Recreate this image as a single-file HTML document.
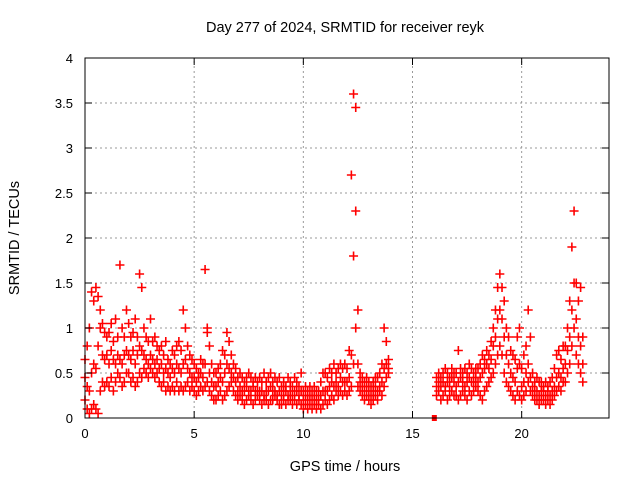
<!DOCTYPE html>
<html><head><meta charset="utf-8"><style>
body{margin:0;background:#fff}
svg{display:block;font-family:"Liberation Sans",sans-serif}
</style></head><body>
<svg id="chart" width="640" height="480">
<rect width="640" height="480" fill="#fff"/>
<g id="grid"></g>
<g id="marks"></g>
<rect x="85" y="58" width="524" height="360" fill="none" stroke="#000" stroke-width="1"/>
<g id="ticks"></g>
<text x="345" y="32" text-anchor="middle" font-size="14.5">Day 277 of 2024, SRMTID for receiver reyk</text>
<text x="345" y="471" text-anchor="middle" font-size="14.5">GPS time / hours</text>
<text transform="translate(19,238) rotate(-90)" text-anchor="middle" font-size="14.5">SRMTID / TECUs</text>
</svg>
<script>
const xTicks=[0,5,10,15,20];
const yTicks=[0,0.5,1,1.5,2,2.5,3,3.5,4];
const yTickLabels=["0","0.5","1","1.5","2","2.5","3","3.5","4"];
const hoursA=[0,0.1,0.2,0.3,0.4,0.5,0.6,0.7,0.8,0.9,1,1.1,1.2,1.3,1.4,1.5,1.6,1.7,1.8,1.9,2,2.1,2.2,2.3,2.4,2.5,2.6,2.7,2.8,2.9,3,3.1,3.2,3.3,3.4,3.5,3.6,3.7,3.8,3.9,4,4.1,4.2,4.3,4.4,4.5,4.6,4.7,4.8,4.9,5,5.1,5.2,5.3,5.4,5.5,5.6,5.7,5.8,5.9,6,6.1,6.2,6.3,6.4,6.5,6.6,6.7,6.8,6.9,7,7.1,7.2,7.3,7.4,7.5,7.6,7.7,7.8,7.9,8,8.1,8.2,8.3,8.4,8.5,8.6,8.7,8.8,8.9,9,9.1,9.2,9.3,9.4,9.5,9.6,9.7,9.8,9.9,10,10.1,10.2,10.3,10.4,10.5,10.6,10.7,10.8,10.9,11,11.1,11.2,11.3,11.4,11.5,11.6,11.7,11.8,11.9,12,12.1,12.2,12.3,12.4,12.5,12.6,12.7,12.8,12.9,13,13.1,13.2,13.3,13.4,13.5,13.6,13.7,13.8,13.9];
const lowA=[.2,.1,.05,.1,.15,.1,.05,.3,.4,.35,.4,.35,.45,.3,.4,.5,.45,.35,.4,.5,.5,.4,.45,.35,.4,.5,.45,.55,.5,.45,.55,.5,.45,.5,.4,.35,.4,.3,.35,.3,.35,.3,.4,.3,.35,.3,.35,.4,.3,.35,.3,.25,.3,.35,.3,.35,.4,.3,.25,.2,.2,.25,.3,.2,.25,.3,.35,.4,.3,.25,.2,.25,.2,.15,.2,.25,.2,.15,.2,.25,.2,.15,.2,.2,.15,.2,.2,.25,.2,.15,.15,.2,.15,.2,.2,.15,.2,.15,.2,.15,.1,.15,.1,.15,.1,.15,.1,.15,.1,.15,.2,.15,.2,.25,.2,.3,.25,.3,.25,.3,.25,.3,.35,.6,1.0,.35,.3,.25,.2,.25,.2,.15,.2,.25,.2,.3,.25,.35,.45,.5];
const midA=[.45,.35,.3,.5,.6,.55,.8,1.0,.7,.65,.7,.6,.75,.65,.6,.7,.65,.6,.7,.75,.7,.65,.75,.6,.7,.8,.75,.7,.65,.6,.7,.65,.6,.65,.55,.6,.5,.55,.5,.45,.55,.5,.6,.55,.5,.6,.65,.55,.5,.45,.45,.4,.45,.5,.45,.6,1.0,.5,.4,.35,.35,.4,.45,.4,.5,.6,.55,.5,.45,.4,.3,.35,.3,.3,.35,.3,.3,.35,.3,.3,.3,.3,.25,.3,.3,.35,.3,.3,.25,.3,.25,.3,.3,.25,.3,.25,.3,.3,.25,.3,.2,.25,.2,.25,.2,.25,.2,.2,.25,.3,.3,.3,.35,.4,.35,.4,.35,.45,.4,.4,.4,.45,.7,1.8,2.3,.6,.4,.35,.3,.35,.3,.25,.3,.35,.3,.35,.4,.55,.6,.55];
const highA=[.65,.8,1.0,1.4,1.3,1.45,1.35,1.2,1.05,.95,.9,.95,1.05,.85,1.1,.9,1.7,1.0,.9,1.2,1.05,.9,.95,1.1,.9,1.6,1.45,1.0,.9,.85,1.1,.85,.9,.8,.75,.8,.7,.85,.65,.6,.75,.7,.8,.85,.75,1.2,1.0,.8,.7,.65,.6,.55,.5,.65,.6,1.65,.95,.8,.6,.5,.5,.55,.6,.75,.7,.95,.85,.7,.6,.55,.45,.5,.45,.4,.45,.5,.45,.4,.45,.4,.45,.4,.5,.4,.45,.5,.4,.45,.4,.45,.35,.4,.35,.45,.4,.35,.45,.4,.35,.5,.3,.35,.3,.35,.3,.35,.3,.3,.4,.5,.5,.45,.55,.5,.6,.5,.55,.6,.55,.6,.55,.75,2.7,3.6,3.45,1.2,.5,.45,.4,.45,.4,.35,.4,.45,.45,.5,.6,1.0,.85,.65];
const hoursB=[16.1,16.2,16.3,16.4,16.5,16.6,16.7,16.8,16.9,17,17.1,17.2,17.3,17.4,17.5,17.6,17.7,17.8,17.9,18,18.1,18.2,18.3,18.4,18.5,18.6,18.7,18.8,18.9,19,19.1,19.2,19.3,19.4,19.5,19.6,19.7,19.8,19.9,20,20.1,20.2,20.3,20.4,20.5,20.6,20.7,20.8,20.9,21,21.1,21.2,21.3,21.4,21.5,21.6,21.7,21.8,21.9,22,22.1,22.2,22.3,22.4,22.5,22.6,22.7,22.8];
const lowB=[.25,.3,.2,.25,.3,.2,.25,.3,.25,.25,.2,.25,.3,.25,.2,.3,.25,.3,.35,.3,.25,.2,.3,.35,.4,.45,.5,.6,.7,.8,.7,.5,.4,.35,.3,.25,.2,.3,.25,.2,.25,.3,.4,.3,.25,.2,.2,.15,.2,.2,.15,.2,.15,.2,.25,.3,.35,.3,.4,.4,.5,.6,.8,1.0,.7,.6,.5,.4];
const midB=[.35,.4,.35,.4,.35,.4,.35,.45,.4,.35,.4,.45,.4,.35,.4,.45,.4,.4,.45,.4,.45,.5,.55,.6,.55,.65,.8,.9,1.1,1.2,1.1,.9,.7,.6,.5,.45,.4,.55,.6,.35,.4,.5,.6,.45,.35,.3,.3,.25,.3,.3,.25,.3,.25,.3,.35,.45,.5,.45,.55,.6,.75,.9,1.2,1.5,1.1,.9,.8,.6];
const highB=[.45,.5,.45,.5,.55,.5,.45,.55,.5,.5,.75,.55,.5,.55,.5,.6,.55,.5,.55,.55,.6,.7,.65,.75,.7,.85,1.0,1.2,1.45,1.6,1.45,1.3,1.0,.9,.75,.7,.65,.9,1.0,.55,.7,.8,1.2,.9,.5,.4,.45,.4,.4,.35,.4,.35,.4,.45,.55,.7,.75,.65,.8,.8,1.0,1.3,1.9,2.3,1.5,1.3,1.45,.9];
const specialHour=[16.0];
const specialVal=[0];
const X0=85,X1=609,Y0=418,Y1=58;
const xs=t=>X0+t/24*(X1-X0);
const ys=v=>Y0-v/4*(Y0-Y1);
const NS="http://www.w3.org/2000/svg";
const grid=document.getElementById('grid'),ticks=document.getElementById('ticks'),marks=document.getElementById('marks');
function mk(tag,attrs,parent){const e=document.createElementNS(NS,tag);for(const k in attrs)e.setAttribute(k,attrs[k]);parent.appendChild(e);return e;}
xTicks.forEach(t=>{const x=xs(t);
 if(t>0){const g=mk('line',{x1:x,x2:x,y1:Y0,y2:Y1,stroke:'#999','stroke-dasharray':'2,3'},grid);
 
 }
 mk('line',{x1:x,x2:x,y1:Y0,y2:Y0-7,stroke:'#000'},ticks);
 mk('line',{x1:x,x2:x,y1:Y1,y2:Y1+7,stroke:'#000'},ticks);
 const l=mk('text',{x:x,y:Y0+20,'text-anchor':'middle','font-size':'13'},ticks);l.textContent=t;
 
 
});
yTicks.forEach((v,i)=>{const y=ys(v);
 if(v>0&&v<4){const g=mk('line',{x1:X0,x2:X1,y1:y,y2:y,stroke:'#999','stroke-dasharray':'2,3'},grid);
 
 }
 mk('line',{x1:X0,x2:X0+7,y1:y,y2:y,stroke:'#000'},ticks);
 mk('line',{x1:X1,x2:X1-7,y1:y,y2:y,stroke:'#000'},ticks);
 const l=mk('text',{x:X0-12,y:y+5,'text-anchor':'end','font-size':'13'},ticks);l.textContent=yTickLabels[i];
 
 
});
function cross(t,v){const x=xs(t),y=ys(v);
 const p=mk('path',{d:`M${x-4.5},${y}H${x+4.5}M${x},${y-4.5}V${y+4.5}`,stroke:'#f00','stroke-width':'1.6',fill:'none'},marks);
 
 }
[lowA,midA,highA].forEach(s=>s.forEach((v,i)=>cross(hoursA[i],v)));
[lowB,midB,highB].forEach(s=>s.forEach((v,i)=>cross(hoursB[i],v)));
specialHour.forEach((t,i)=>{const r=mk('rect',{x:xs(t)-2.5,y:ys(specialVal[i])-3,width:5,height:6,fill:'#f00'},marks);
 
 });
</script>
</body></html>
